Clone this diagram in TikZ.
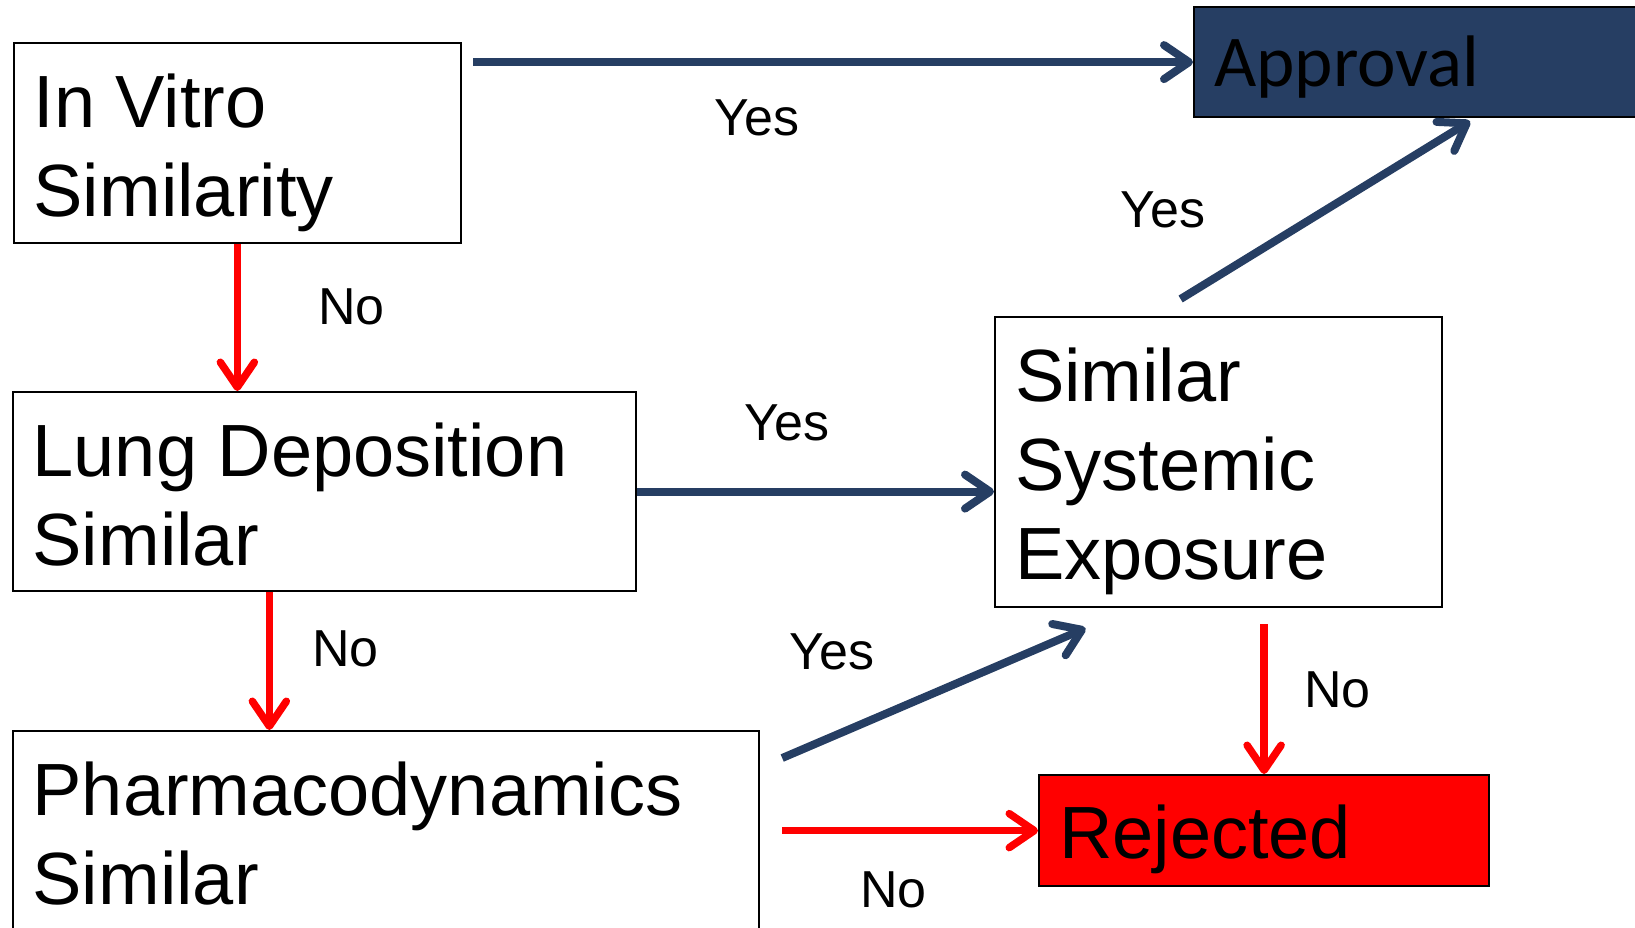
\documentclass[tikz,border=0pt]{standalone}
\usepackage{fontspec}
\setmainfont{Liberation Sans}
\newfontfamily\calibri{Carlito}
\usetikzlibrary{arrows.meta, positioning, calc}
\definecolor{darkblue}{RGB}{38,62,99}

\begin{document}
\begin{tikzpicture}[x=1pt, y=-1pt,
    box/.style={draw, line width=2.2pt, anchor=north west, align=flush left,
      inner xsep=20pt, inner ysep=0pt, text height=84pt,
      font=\fontsize{74}{89}\selectfont},
    yesarrow/.style={draw=darkblue, line width=8pt,
      -{Straight Barb[length=25pt, width=34pt, round]}},
    noarrow/.style={draw=red, line width=7.5pt,
      -{Straight Barb[length=25pt, width=34pt, round]}},
    lbl/.style={anchor=base west, inner sep=0pt, font=\fontsize{52}{62}\selectfont}]
  \useasboundingbox (0,0) rectangle (1635,927);
  \clip (0,0) rectangle (1635,927);

  % Boxes
  \node[box, text width=407.5pt, text depth=116pt] (invitro) at (12.5,42) {In Vitro\\Similarity};
  \node[box, text width=583.5pt, text depth=115pt] (lung) at (11.5,391) {Lung Deposition\\Similar};
  \node[box, text width=706.5pt, text depth=186pt] (pharma) at (11.5,730) {Pharmacodynamics\\Similar};
  \node[box, text width=407pt, text depth=206pt] (systemic) at (994,316) {Similar\\Systemic\\Exposure};
  \node[box, fill=darkblue, text width=512pt, text height=79pt, text depth=31pt,
    font=\calibri\fontsize{73}{88}\selectfont] (approval) at (1193,6) {Approval};
  \node[box, fill=red, text width=410pt, text height=83pt, text depth=28pt] (rejected) at (1038,774) {Rejected};

  % Yes paths
  \draw[yesarrow] ([xshift=11pt]invitro.east |- approval.west) -- (approval.west);
  \draw[yesarrow] (lung.east) -- (lung.east -| systemic.west);
  \draw[yesarrow] ([shift={(22pt,-28pt)}]pharma.north east) -- ([shift={(-133pt,-20pt)}]systemic.south);
  \draw[yesarrow] ([shift={(-38pt,17pt)}]systemic.north) -- ([yshift=-3pt]approval.south);

  % No paths
  \draw[noarrow] (invitro.south) -- (invitro.south |- lung.north);
  \draw[noarrow] ([xshift=-55pt]lung.south) -- ([xshift=-55pt]lung.south |- pharma.north);
  \draw[noarrow] ([xshift=22pt]pharma.east |- rejected.west) -- (rejected.west);
  \draw[noarrow] ([yshift=-16pt]systemic.south -| rejected.north) -- (rejected.north);

  % Labels
  \node[lbl] (yes1) at (714,135.5) {Yes};
  \node[lbl] (yes2) at (744,440) {Yes};
  \node[lbl] (yes3) at (789,669) {Yes};
  \node[lbl] (yes4) at (1120,227) {Yes};
  \node[lbl] (no1) at (318,324) {No};
  \node[lbl] (no2) at (312,666) {No};
  \node[lbl] (no3) at (860,907) {No};
  \node[lbl] (no4) at (1304,707) {No};
\end{tikzpicture}
\end{document}
